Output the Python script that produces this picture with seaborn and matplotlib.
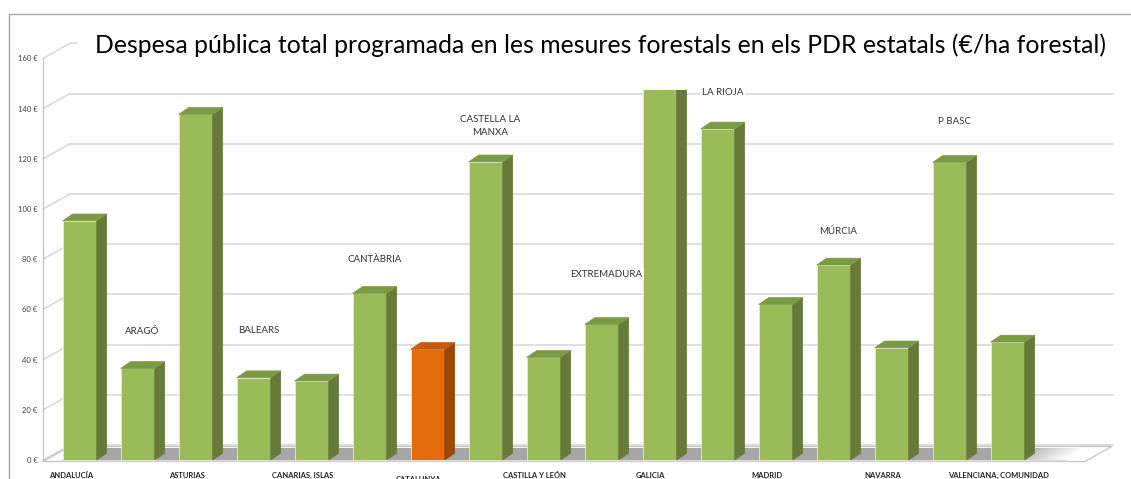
import matplotlib
matplotlib.use("Agg")
import matplotlib.pyplot as plt
import matplotlib.transforms as mtransforms
from matplotlib.patches import Polygon, Rectangle
from matplotlib.lines import Line2D
from matplotlib.colors import to_rgb
import numpy as np
import seaborn as sns

# data (€/ha forestal)
regions = ["ANDALUCÍA", "ARAGÓ", "ASTURIAS", "BALEARS", "CANARIAS, ISLAS",
           "CANTÀBRIA", "CATALUNYA", "CASTELLA LA\nMANXA", "CASTILLA Y LEÓN",
           "EXTREMADURA", "GALICIA", "LA RIOJA", "MADRID", "MÚRCIA", "NAVARRA",
           "P BASC", "VALENCIANA, COMUNIDAD"]
spend = [95.3, 36.5, 137.7, 32.8, 31.5, 66.4, 44.1, 118.8, 40.9, 54.0, 150.0,
         131.9, 62.0, 77.7, 44.7, 118.6, 47.0]
highlight = "CATALUNYA"
yticks = list(range(0, 161, 20))
# excel could not fit the odd labels on the axis, they were moved into the plot
inner_label_y = [51, 51.5, 80, 133, 74, 146.5, 91, 135]

title = ("Despesa pública total programada en les mesures forestals "
         "en els PDR estatals (€/ha forestal)")

GREEN = ("#9bbb59", "#687a3a", "#7b9a43")   # front, side, top
ORANGE = ("#e46c0a", "#984807", "#c55a11")
GRID = "#d9d9d9"

# fake 3d geometry (data units)
BAR_DX, BAR_DY = 0.172, 2.7
WALL_DX, WALL_DY = 0.466, 6.0
X_LEFT, X_RIGHT = -0.633, 18.126
WALL_TOP = 147.4

sns.set_style("white")
plt.rcParams["font.family"] = ["Lato", "DejaVu Sans"]

fig = plt.figure(figsize=(11.31, 4.79), dpi=100)
ax = fig.add_axes([43 / 1131, 19 / 479, 1088 / 1131, 401.6 / 479])

faces = [ORANGE if r == highlight else GREEN for r in regions]
sns.barplot(x=regions, y=spend, hue=regions, palette=[f[0] for f in faces],
            legend=False, width=0.586, saturation=1, ax=ax, zorder=3,
            edgecolor="#e3ebcf", linewidth=0.6)
ax.set_xlim(X_LEFT, X_RIGHT)
ax.set_ylim(0, 160)

# everything above the plot area gets cut (galicia)
clip = Rectangle((X_LEFT - 1, -20), 30, WALL_TOP + 20, transform=ax.transData)

for bar, face in zip(list(ax.patches), faces):
    x0, w, h = bar.get_x(), bar.get_width(), bar.get_height()
    side = Polygon([(x0 + w, 0), (x0 + w + BAR_DX, BAR_DY),
                    (x0 + w + BAR_DX, h + BAR_DY), (x0 + w, h)],
                   closed=True, facecolor=face[1], edgecolor=face[1],
                   lw=0.5, zorder=3)
    top = Polygon([(x0, h), (x0 + w, h), (x0 + w + BAR_DX, h + BAR_DY),
                   (x0 + BAR_DX, h + BAR_DY)],
                  closed=True, facecolor=face[2], edgecolor=face[2],
                  lw=0.5, zorder=3)
    ax.add_patch(side)
    ax.add_patch(top)
    for p in (bar, side, top):
        p.set_clip_path(clip)

# back wall gridlines + left wall diagonals
for v in yticks:
    ax.plot([X_LEFT, X_LEFT + WALL_DX], [v, v + WALL_DY], color=GRID,
            lw=1.2, zorder=1, clip_on=False)
    x_end = 17.816 if v < 160 else -0.05
    ax.plot([X_LEFT + WALL_DX, x_end], [v + WALL_DY, v + WALL_DY],
            color=GRID, lw=1.2, zorder=1, clip_on=False)

# floor
floor_r = 17.33
ax.add_patch(Polygon([(X_LEFT, -0.6), (floor_r, -0.6),
                      (floor_r + WALL_DX, WALL_DY - 0.6),
                      (X_LEFT + WALL_DX, WALL_DY - 0.6)],
                     closed=True, facecolor="white", edgecolor="#c8c8c8",
                     lw=1, zorder=1.5, clip_on=False))
band_dx, band_dy = WALL_DX * 0.8, WALL_DY * 0.8
band_l, fade_l, fade_r = -0.305, 15.9, 17.0
ax.add_patch(Polygon([(band_l, 0), (fade_l, 0), (fade_l + band_dx, band_dy),
                      (band_l + band_dx, band_dy)],
                     closed=True, facecolor="#a6a6a6", edgecolor="none",
                     zorder=1.6, clip_on=False))
steps = np.linspace(fade_l, fade_r, 16)
gray, white = np.array(to_rgb("#a6a6a6")), np.ones(3)
for k in range(len(steps) - 1):
    t = k / (len(steps) - 2)
    col = gray * (1 - t) + white * t
    a, b = steps[k], steps[k + 1] + 0.01
    ax.add_patch(Polygon([(a, 0), (b, 0), (b + band_dx, band_dy),
                          (a + band_dx, band_dy)],
                         closed=True, facecolor=col, edgecolor="none",
                         zorder=1.6, clip_on=False))
ax.plot([band_l, fade_r], [-0.3, -0.3], color="#d6d6d6", lw=1.5,
        zorder=1.7, clip_on=False)

# axes styling
ax.set_yticks(yticks)
ax.set_yticklabels([f"{v} €" for v in yticks])
ax.tick_params(axis="y", length=0, pad=4, labelsize=5.5, labelcolor="#404040")
for s in ("top", "right", "bottom"):
    ax.spines[s].set_visible(False)
ax.spines["left"].set_color("#bfbfbf")
ax.spines["left"].set_bounds(0, 160)

even = list(range(0, len(regions), 2))
ax.set_xticks(even)
ax.set_xticklabels([regions[i] for i in even], fontweight="bold", fontsize=5.5)
ax.tick_params(axis="x", length=0, pad=8.5)
shift = mtransforms.ScaledTranslation(-9 / 100, 0, fig.dpi_scale_trans)
for lab in ax.get_xticklabels():
    lab.set_transform(lab.get_transform() + shift)
    if lab.get_text() == highlight:
        lab.set_transform(lab.get_transform()
                          + mtransforms.ScaledTranslation(0, -4 / 100, fig.dpi_scale_trans))
        lab.set_bbox(dict(boxstyle="square,pad=2.2", facecolor="white",
                          edgecolor="none"))
        lab.set_zorder(5)

odd = list(range(1, len(regions), 2))
for i, yv in zip(odd, inner_label_y):
    ax.text(i + 0.08, yv, regions[i], ha="center", va="center", fontsize=7,
            color="#333333", linespacing=1.5, zorder=4,
            bbox=dict(boxstyle="square,pad=0.15", facecolor="white",
                      edgecolor="none"))

fig.text(0.531, 1 - 45 / 479, title, ha="center", va="center", fontsize=17.8,
         color="black")

# chart area border (only left and top are visible in the crop)
fx, fy = 9 / 1131, 1 - 14 / 479
fig.add_artist(Line2D([fx, fx], [0, fy], color="#a6a6a6", lw=1))
fig.add_artist(Line2D([fx, 1], [fy, fy], color="#a6a6a6", lw=1))

fig.savefig("out.png", dpi=100)
